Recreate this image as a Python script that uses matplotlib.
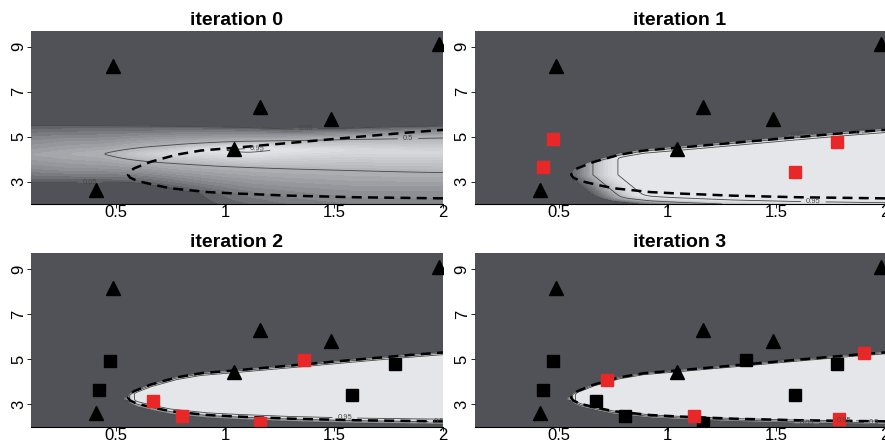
import numpy as np
import matplotlib
matplotlib.use('Agg')
import matplotlib.pyplot as plt
from math import erf

plt.rcParams['font.family'] = ['Liberation Sans', 'DejaVu Sans']

# --- points ---
# triangles: present in every iteration
tri_x = [0.41, 0.485, 1.04, 1.16, 1.486, 1.98]
tri_y = [2.63, 8.16, 4.45, 6.31, 5.79, 9.10]

# squares added at iteration 1, 2, 3 (red when new, black afterwards)
new1_x = [0.472, 0.424, 1.584, 1.78]
new1_y = [4.90, 3.66, 3.42, 4.77]
new2_x = [0.670, 0.803, 1.163, 1.362]
new2_y = [3.13, 2.48, 2.20, 4.97]
new3_x = [0.722, 1.12, 1.79, 1.905]
new3_y = [4.06, 2.48, 2.34, 5.27]

# true boundary (dashed curve), upper and lower branch
bnd_up_x = [0.555, 0.563, 0.584, 0.66, 0.78, 0.89, 1.04, 1.3, 1.6, 1.84, 2.0]
bnd_up_y = [3.30, 3.45, 3.59, 3.88, 4.20, 4.38, 4.50, 4.72, 4.98, 5.18, 5.30]
bnd_lo_x = [0.555, 0.565, 0.6, 0.68, 0.75, 0.92, 1.04, 1.3, 1.6, 2.0]
bnd_lo_y = [3.30, 3.17, 3.02, 2.84, 2.70, 2.53, 2.47, 2.37, 2.30, 2.25]

# iteration 0 surface: probability read along a few vertical cuts
p0_x = [0.11, 0.3, 0.46, 0.61, 0.75, 0.9, 1.1, 1.3, 1.6, 2.0]
p0_cut_y = [
    [2.0, 3.0, 3.6, 4.2, 4.8, 5.49, 5.8],
    [2.0, 3.0, 3.6, 4.22, 4.8, 5.48, 5.8],
    [2.0, 2.6, 3.0, 3.6, 4.24, 4.8, 5.47, 5.8],
    [2.0, 2.6, 2.98, 3.93, 4.21, 4.5, 5.46, 5.8],
    [2.0, 2.4, 2.78, 3.82, 4.25, 4.6, 5.44, 5.8],
    [2.0, 2.5, 3.73, 4.4, 4.7, 5.42, 5.8],
    [2.0, 2.6, 3.64, 4.23, 4.4, 4.55, 4.78, 5.38, 5.7],
    [2.0, 2.6, 3.57, 4.41, 4.82, 5.30, 5.6],
    [2.0, 2.6, 3.49, 4.4, 4.88, 5.35, 5.7],
    [2.0, 2.6, 3.40, 4.3, 4.95, 5.45, 5.8],
]
p0_cut_p = [
    [0.0, 0.05, 0.25, 0.40, 0.25, 0.05, 0.0],
    [0.0, 0.05, 0.30, 0.46, 0.30, 0.05, 0.0],
    [0.0, 0.01, 0.05, 0.30, 0.50, 0.30, 0.05, 0.0],
    [0.0, 0.01, 0.05, 0.50, 0.70, 0.50, 0.05, 0.0],
    [0.0, 0.01, 0.05, 0.50, 0.85, 0.50, 0.05, 0.0],
    [0.03, 0.05, 0.50, 0.95, 0.50, 0.05, 0.0],
    [0.09, 0.20, 0.50, 0.95, 0.98, 0.95, 0.50, 0.05, 0.0],
    [0.15, 0.25, 0.50, 0.95, 0.50, 0.05, 0.0],
    [0.20, 0.30, 0.50, 0.85, 0.50, 0.05, 0.0],
    [0.20, 0.30, 0.50, 0.82, 0.50, 0.05, 0.0],
]

# iterations 1-3: fitted boundary offsets / widths
fit_du = [0.02, 0.03, 0.01]
fit_su = [0.06, 0.04, 0.03]
fit_dl = [0.39, 0.02, 0.06]
fit_sl = [0.12, 0.07, 0.04]
fit_xv = [0.655, 0.56, 0.555]
fit_sx = [0.07, 0.015, 0.012]
fit_kx = [0.127, 0.0, 0.0]

verf = np.vectorize(erf)


def phi(z):
    return 0.5 * (1 + verf(z / np.sqrt(2)))


gx = np.linspace(0.11, 2.0, 380)
gy = np.linspace(2.0, 9.7, 320)
X, Y = np.meshgrid(gx, gy)


def smooth(A, s_col, s_row):
    out = A.copy()
    for axis, s in ((1, s_col), (0, s_row)):
        r = int(3 * s) + 1
        k = np.exp(-0.5 * (np.arange(-r, r + 1) / s) ** 2)
        k /= k.sum()
        pad = [(0, 0), (0, 0)]
        pad[axis] = (r, r)
        padded = np.pad(out, pad, mode='edge')
        out = np.apply_along_axis(lambda v: np.convolve(v, k, mode='valid'), axis, padded)
    return out


def field0():
    cols = np.array([np.interp(gy, cy, cp) for cy, cp in zip(p0_cut_y, p0_cut_p)]).T
    P = np.array([np.interp(gx, p0_x, row) for row in cols])
    return smooth(P, 9, 1.5)


def field_fit(k):
    U = np.interp(X, bnd_up_x, bnd_up_y)
    L = np.interp(X, bnd_lo_x, bnd_lo_y)
    tu = (U - fit_du[k] - Y) / fit_su[k]
    tl = (Y - L + fit_dl[k]) / fit_sl[k]
    tx = (X - fit_xv[k] - fit_kx[k] * np.clip(bnd_up_y[0] - Y, 0, None)) / fit_sx[k]
    t = 0.3
    z = -t * np.logaddexp.reduce(np.stack([-tu / t, -tl / t, -tx / t]), axis=0)
    return phi(z)


fields = [field0(), field_fit(0), field_fit(1), field_fit(2)]

# R gray.colors(20), with the slight blue cast seen in the picture
gv = np.linspace(0.3 ** 2.2, 0.9 ** 2.2, 20) ** (1 / 2.2)
frac = np.linspace(1, 0, 20)
grays = [(v + (4 * f - 1 * (1 - f)) / 255,
          v + (6 * f) / 255,
          v + (11 * f + 4 * (1 - f)) / 255) for v, f in zip(gv, frac)]
grays = [tuple(min(1.0, max(0.0, c)) for c in g) for g in grays]

labels = [
    [(0.05, 1.37, 5.28), (0.05, 0.38, 3.0), (0.95, 1.15, 4.52), (0.5, 1.84, 4.9)],
    [(0.05, 1.6, 5.17), (0.5, 1.89, 5.22), (0.95, 1.67, 2.11)],
    [(0.95, 1.55, 2.44), (0.5, 1.98, 2.2)],
    [(0.05, 1.64, 2.17), (0.95, 1.81, 2.26), (0.5, 1.95, 2.24)],
]

black_sq = [([], []), ([], []),
            (new1_x, new1_y), (new1_x + new2_x, new1_y + new2_y)]
red_sq = [([], []), (new1_x, new1_y), (new2_x, new2_y), (new3_x, new3_y)]

bnd_x = bnd_lo_x[::-1] + bnd_up_x
bnd_y = bnd_lo_y[::-1] + bnd_up_y

fig = plt.figure(figsize=(8.85, 4.4), dpi=100)
rects = [[0.035, 0.5364, 0.4655, 0.3931], [0.5362, 0.5364, 0.4638, 0.3931],
         [0.035, 0.0295, 0.4655, 0.3955], [0.5362, 0.0295, 0.4638, 0.3955]]

for k in range(4):
    ax = fig.add_axes(rects[k])
    P = np.clip(fields[k], 0, 1)
    ax.contourf(gx, gy, P, levels=np.linspace(0, 1, 21), colors=grays)
    for lev in [0.05, 0.5, 0.95]:
        if P.max() <= lev:
            continue
        cs = ax.contour(gx, gy, P, levels=[lev], colors='0.28', linewidths=0.6)
        pos = [(lx, ly) for lv, lx, ly in labels[k] if lv == lev]
        if pos:
            ax.clabel(cs, manual=pos, inline=True, fontsize=5.5,
                      fmt=lambda v: f'{v:g}')
    ax.plot(bnd_x, bnd_y, color='black', lw=1.8, ls=(0, (4, 2.5)))
    ax.plot(tri_x, tri_y, '^', ms=10, color='black', ls='none')
    bx, by = black_sq[k]
    if bx:
        ax.plot(bx, by, 's', ms=9, color='black', ls='none')
    rx, ry = red_sq[k]
    if rx:
        ax.plot(rx, ry, 's', ms=9, color='#e82828', ls='none')

    ax.set_xlim(0.11, 2.0)
    ax.set_ylim(2.0, 9.7)
    ax.set_xticks([0.5, 1, 1.5, 2])
    ax.set_xticklabels(['0.5', '1', '1.5', '2'])
    ax.set_yticks([3, 5, 7, 9])
    ax.set_yticklabels(['3', '5', '7', '9'], rotation=90, va='center')
    for s in ['top', 'right', 'left']:
        ax.spines[s].set_visible(False)
    ax.spines['bottom'].set_linewidth(0.8)
    ax.tick_params(direction='out', length=3, width=0.6, labelsize=12)
    ax.tick_params(axis='x', pad=-2.5)
    ax.tick_params(axis='y', pad=0.5)
    ax.set_title(f'iteration {k}', fontsize=14, fontweight='bold', pad=4)

fig.savefig('out.png', dpi=100)
